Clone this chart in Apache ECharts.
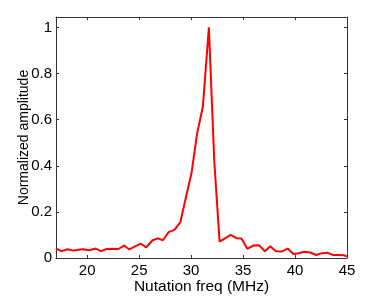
<!DOCTYPE html>
<html>
<head>
<meta charset="utf-8">
<script src="https://cdn.jsdelivr.net/npm/echarts@6/dist/echarts.min.js"></script>
<style>
html,body{margin:0;padding:0;background:#fff;}
#c{width:374px;height:298px;}
</style>
</head>
<body>
<div id="c"></div>
<script>
var freqMHz = [17.0,17.52,18.10,18.65,19.16,19.61,20.19,20.81,21.32,21.87,22.45,23.00,23.55,24.06,24.61,25.16,25.68,26.29,26.81,27.29,27.84,28.39,28.97,29.45,30.03,30.58,31.13,31.71,32.23,32.74,33.26,33.81,34.35,34.84,35.42,35.97,36.55,37.10,37.61,38.16,38.71,39.29,39.84,40.35,40.90,41.45,42.03,42.58,43.10,43.65,44.19,44.7,45.0];
var amplitude = [0.041,0.030,0.038,0.032,0.036,0.038,0.034,0.041,0.030,0.039,0.040,0.039,0.054,0.037,0.050,0.062,0.046,0.077,0.085,0.077,0.112,0.122,0.156,0.253,0.366,0.54,0.656,1.0,0.42,0.071,0.085,0.10,0.086,0.085,0.040,0.054,0.055,0.029,0.051,0.029,0.028,0.041,0.017,0.021,0.027,0.024,0.013,0.021,0.023,0.013,0.013,0.012,0.007];
var xTicks = [20,25,30,35,40,45];
var yTicks = [0,0.2,0.4,0.6,0.8,1];
var xName = 'Nutation freq (MHz)';
var yName = 'Normalized amplitude';

var points = freqMHz.map(function(f,i){return [f, amplitude[i]];});
var font = 'Liberation Sans, Arial, Helvetica, sans-serif';
var axisCol = '#333333';

function xAx(pos, main){
  return {
    type:'value', position:pos, min:17, max:45,
    name: main ? xName : '', nameLocation:'middle', nameGap:21, nameMoveOverlap:false,
    nameTextStyle:{fontFamily:font,fontSize:15.5,color:'#000'},
    axisLine:{show:true,onZero:false,lineStyle:{color:axisCol,width:1}},
    axisTick:{show:true,inside:true,length:3,customValues:xTicks,lineStyle:{color:axisCol}},
    axisLabel:{show:main,customValues:xTicks,margin:5,fontFamily:font,fontSize:15,color:'#000'},
    splitLine:{show:false}
  };
}
function yAx(pos, main){
  return {
    type:'value', position:pos, min:0, max:1.045,
    name: main ? yName : '', nameLocation:'middle', nameGap:25, nameMoveOverlap:false,
    nameTextStyle:{fontFamily:font,fontSize:14,color:'#000'},
    axisLine:{show:true,onZero:false,lineStyle:{color:axisCol,width:1}},
    axisTick:{show:true,inside:true,length:3,customValues:yTicks,lineStyle:{color:axisCol}},
    axisLabel:{show:main,customValues:yTicks,margin:4,fontFamily:font,fontSize:15,color:'#000'},
    splitLine:{show:false}
  };
}

var chart = echarts.init(document.getElementById('c'), null, {renderer:'canvas'});
chart.setOption({
  animation:false,
  backgroundColor:'#fff',
  grid:{left:56,right:27,top:17,bottom:40,containLabel:false,outerBoundsMode:'none'},
  xAxis:[xAx('bottom',true), xAx('top',false)],
  yAxis:[yAx('left',true), yAx('right',false)],
  series:[{
    type:'line', xAxisIndex:0, yAxisIndex:0,
    data:points, showSymbol:false, smooth:false,
    lineStyle:{color:'#ff0000',width:2}
  }]
});
</script>
</body>
</html>
